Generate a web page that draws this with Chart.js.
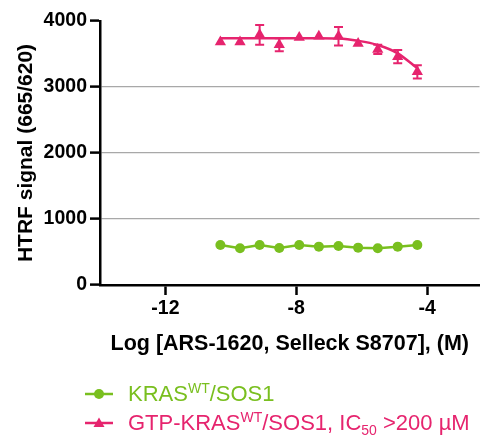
<!DOCTYPE html>
<html>
<head>
<meta charset="utf-8">
<script src="https://cdn.jsdelivr.net/npm/chart.js@4"></script>
<style>
  html, body { margin: 0; padding: 0; background: #fff; }
  #wrap { position: relative; width: 486px; height: 441px; }
  canvas { position: absolute; left: 0; top: 0; }
  .leyenda { position: absolute; left: 85px; font-family: "Liberation Sans", Arial, sans-serif; font-size: 22px; }
  .fila { height: 29px; display: flex; align-items: center; white-space: nowrap; }
  .fila svg { margin-right: 15px; }
  sup, sub { font-size: 14px; line-height: 0; }
</style>
</head>
<body>
<div id="wrap">
  <canvas id="grafica" width="486" height="441"></canvas>
  <div class="leyenda" style="top:379px">
    <div class="fila" style="color:#79bf1f">
      <svg width="28" height="14"><line x1="0" y1="7" x2="28" y2="7" stroke="#79bf1f" stroke-width="2.5"/><circle cx="14" cy="7" r="5" fill="#79bf1f"/></svg>
      <span>KRAS<sup>WT</sup>/SOS1</span>
    </div>
    <div class="fila" style="color:#e6246e">
      <svg width="28" height="14"><line x1="0" y1="7" x2="28" y2="7" stroke="#e6246e" stroke-width="2.5"/><polygon points="14,1.5 19.5,11 8.5,11" fill="#e6246e"/></svg>
      <span>GTP-KRAS<sup>WT</sup>/SOS1, IC<sub>50</sub> &gt;200 µM</span>
    </div>
  </div>
</div>
<script>
const logConc = [-10.32, -9.72, -9.12, -8.52, -7.91, -7.31, -6.71, -6.11, -5.51, -4.90, -4.30];
const krasSos = [606, 556, 606, 560, 606, 581, 591, 566, 556, 581, 606];
const gtpKras = [3680, 3680, 3790, 3640, 3750, 3770, 3770, 3660, 3570, 3460, 3230];
const gtpKrasErr = [0, 0, 150, 100, 0, 0, 140, 0, 70, 100, 100];
const gtpAjuste = [3740, 3740, 3740, 3740, 3740, 3740, 3735, 3700, 3636, 3510, 3283];
const ticksX = [-12, -8, -4];
const ticksY = [0, 1000, 2000, 3000, 4000];

const verde = '#79bf1f';
const rosa = '#e6246e';

const puntos = (ys) => logConc.map((x, i) => ({ x: x, y: ys[i] }));

// barras de error para la serie GTP-KRAS
const barrasError = {
  id: 'barrasError',
  afterDatasetsDraw(chart) {
    const ctx = chart.ctx;
    const sx = chart.scales.x, sy = chart.scales.y;
    ctx.save();
    ctx.strokeStyle = rosa;
    ctx.lineWidth = 2;
    gtpKras.forEach((v, i) => {
      const e = gtpKrasErr[i];
      if (!e) return;
      const px = sx.getPixelForValue(logConc[i]);
      const y1 = sy.getPixelForValue(v + e);
      const y2 = sy.getPixelForValue(v - e);
      ctx.beginPath();
      ctx.moveTo(px, y1); ctx.lineTo(px, y2);
      ctx.moveTo(px - 4.5, y1); ctx.lineTo(px + 4.5, y1);
      ctx.moveTo(px - 4.5, y2); ctx.lineTo(px + 4.5, y2);
      ctx.stroke();
    });
    ctx.restore();
  }
};

const familia = '"Liberation Sans", Arial, sans-serif';
const fuente = { family: familia, weight: 'bold', size: 19.5 };

new Chart(document.getElementById('grafica'), {
  type: 'scatter',
  data: {
    datasets: [
      {
        label: 'ajuste',
        data: puntos(gtpAjuste),
        showLine: true,
        borderColor: rosa,
        borderWidth: 2.5,
        pointRadius: 0,
        cubicInterpolationMode: 'monotone'
      },
      {
        label: 'GTP-KRAS/SOS1',
        data: puntos(gtpKras),
        pointStyle: 'triangle',
        pointRadius: 6.5,
        backgroundColor: rosa,
        borderColor: rosa,
        borderWidth: 0
      },
      {
        label: 'KRAS/SOS1',
        data: puntos(krasSos),
        showLine: true,
        borderColor: verde,
        borderWidth: 2.5,
        pointRadius: 5,
        backgroundColor: verde,
        pointBorderWidth: 0
      }
    ]
  },
  options: {
    responsive: false,
    animation: false,
    layout: { padding: { left: 14, right: 3, top: 21, bottom: 84 } },
    plugins: {
      legend: { display: false },
      tooltip: { enabled: false }
    },
    scales: {
      x: {
        type: 'linear',
        min: -14,
        max: -2.4,
        afterBuildTicks: (s) => { s.ticks = ticksX.map(v => ({ value: v })); },
        afterFit: (s) => { s.height = 72; },
        ticks: { color: '#000', font: fuente, padding: 2, callback: (v) => String(v) },
        grid: { drawOnChartArea: false, tickLength: 10, tickColor: '#000', tickWidth: 2.5 },
        border: { color: '#000', width: 2.5 },
        title: {
          display: true,
          text: 'Log [ARS-1620, Selleck S8707], (M)',
          color: '#000',
          font: { family: familia, weight: 'bold', size: 21.5 },
          padding: { top: 8, bottom: 0 }
        }
      },
      y: {
        min: 0,
        max: 4000,
        afterBuildTicks: (s) => { s.ticks = ticksY.map(v => ({ value: v })); },
        afterFit: (s) => { s.width = 86; },
        ticks: { color: '#000', font: fuente, padding: 3, callback: (v) => String(v) },
        grid: {
          color: (c) => (c.tick && c.tick.value > 0 && c.tick.value < 4000) ? '#a8a8a8' : 'transparent',
          lineWidth: 1.2,
          borderDash: [4, 4],
          tickLength: 10,
          tickColor: '#000',
          tickWidth: 2.5,
          tickBorderDash: []
        },
        border: { color: '#000', width: 2.5 },
        title: {
          display: true,
          text: 'HTRF signal (665/620)',
          color: '#000',
          font: { family: familia, weight: 'bold', size: 21 },
          padding: { top: 0, bottom: 0 }
        }
      }
    }
  },
  plugins: [barrasError]
});
</script>
</body>
</html>
